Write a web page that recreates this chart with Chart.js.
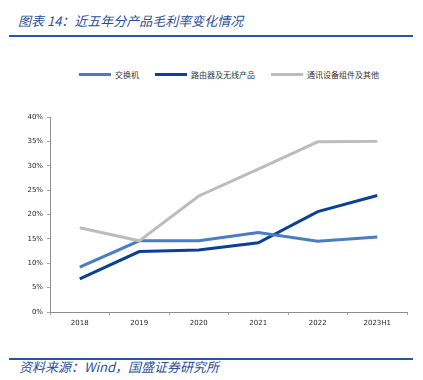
<!DOCTYPE html>
<html>
<head>
<meta charset="utf-8">
<script src="https://cdn.jsdelivr.net/npm/chart.js@4.4.1/dist/chart.umd.min.js"></script>
<style>
  html, body { margin: 0; padding: 0; background: #fff; }
  #page { position: relative; width: 423px; height: 380px; overflow: hidden; font-family: "Noto Sans CJK SC", sans-serif; }
  .rule { position: absolute; left: 9px; width: 404px; background: #2456a8; }
  #title { position: absolute; left: 18px; top: 12px; font-size: 13px; line-height: 18px; color: #2a4f9c; font-style: italic; white-space: nowrap; }
  #source { position: absolute; left: 19px; top: 359px; font-size: 13px; line-height: 16px; color: #2a4f9c; font-style: italic; white-space: nowrap; }
  #legend { position: absolute; left: 79px; top: 68px; height: 12px; display: flex; align-items: center; gap: 16px; font-size: 8px; color: #333; }
  #legend .item { display: flex; align-items: center; white-space: nowrap; }
  #legend .bar { width: 32px; height: 3px; margin-right: 4px; }
  #wrap { position: absolute; left: 0; top: 50px; width: 423px; height: 290px; }
</style>
</head>
<body>
<div id="page">
  <div id="title">图表 14：近五年分产品毛利率变化情况</div>
  <div class="rule" style="top:35px;height:2px;"></div>
  <div id="legend"></div>
  <div id="wrap"><canvas id="chart"></canvas></div>
  <div class="rule" style="top:358px;height:1.5px;"></div>
  <div id="source">资料来源：Wind，国盛证券研究所</div>
</div>
<script>
// years on x axis
const years = ['2018', '2019', '2020', '2021', '2022', '2023H1'];

// gross margin (%) per product line
const switchMargin = [9.2, 14.6, 14.6, 16.3, 14.5, 15.4];
const routerMargin = [6.8, 12.4, 12.7, 14.2, 20.6, 23.9];
const commsMargin  = [17.3, 14.6, 23.8, 29.3, 34.9, 35.0];

const seriesNames = ['交换机', '路由器及无线产品', '通讯设备组件及其他'];
const seriesColors = ['#4a7ec2', '#0b3f98', '#bcbcbc'];

const yTicks = { min: 0, max: 40, step: 5 };

const tickFont = { family: 'DejaVu Sans', size: 7 };

const makeSet = (i, data) => ({
  label: seriesNames[i],
  data: data,
  borderColor: seriesColors[i],
  backgroundColor: seriesColors[i],
  borderWidth: 3,
  pointRadius: 0,
  tension: 0,
  fill: false
});

const chart = new Chart(document.getElementById('chart'), {
  type: 'line',
  data: {
    labels: years,
    datasets: [
      makeSet(2, commsMargin),
      makeSet(0, switchMargin),
      makeSet(1, routerMargin)
    ]
  },
  options: {
    responsive: true,
    maintainAspectRatio: false,
    animation: false,
    layout: { padding: { left: 0, right: 16, top: 67, bottom: 0 } },
    plugins: {
      legend: { display: false },
      tooltip: { enabled: false }
    },
    scales: {
      x: {
        offset: true,
        grid: { display: true, drawOnChartArea: false, drawTicks: true, tickLength: 3, color: '#a6a6a6', offset: true },
        border: { display: true, color: '#8c8c8c', width: 1 },
        ticks: { color: '#262626', font: tickFont, padding: 4, maxRotation: 0 },
        afterFit: (s) => { s.height = 28; }
      },
      y: {
        min: yTicks.min,
        max: yTicks.max,
        grid: { display: true, drawOnChartArea: false, drawTicks: true, tickLength: 3, color: '#a6a6a6' },
        border: { display: true, color: '#8c8c8c', width: 1 },
        ticks: {
          stepSize: yTicks.step,
          color: '#262626',
          font: tickFont,
          padding: 4,
          callback: (v) => v + '%'
        },
        afterFit: (s) => { s.width = 50; }
      }
    }
  }
});

// html legend in the original order
const legendEl = document.getElementById('legend');
seriesNames.forEach((name, i) => {
  const item = document.createElement('div');
  item.className = 'item';
  const bar = document.createElement('div');
  bar.className = 'bar';
  bar.style.background = seriesColors[i];
  const txt = document.createElement('span');
  txt.textContent = name;
  item.appendChild(bar);
  item.appendChild(txt);
  legendEl.appendChild(item);
});
</script>
</body>
</html>
